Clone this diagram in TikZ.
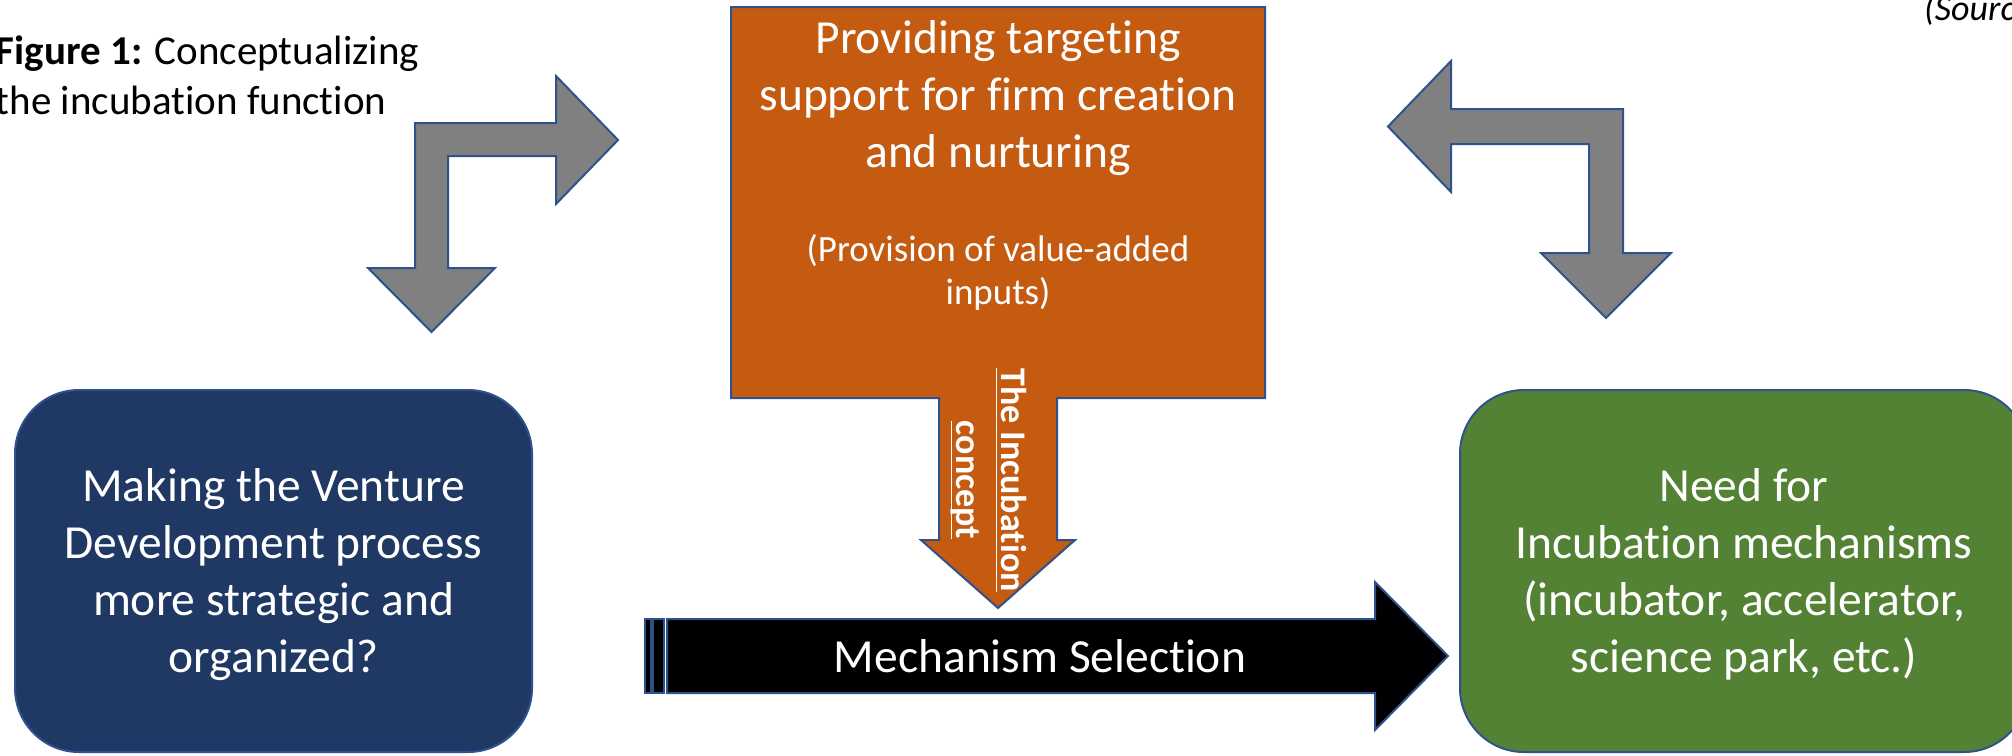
\documentclass[tikz,border=0pt]{standalone}
\usepackage{amsmath}
\usepackage{fontspec}
\setmainfont{Carlito}[Ligatures={TeX,NoCommon}]
\usepackage{tikz}
\tikzset{every picture/.style={line width=1pt}}
\tikzset{
  shapeedge/.style={draw={rgb, 255:red, 47; green, 82; blue, 143}},
  grayarrow/.style={shapeedge, fill={rgb, 255:red, 128; green, 128; blue, 128}},
  roundbox/.style={shapeedge, rounded corners=32pt, inner sep=0pt, minimum height=181pt},
  boxtext/.style={text=white, align=center, inner sep=0pt, font=\fontsize{23.75}{28.5}\selectfont},
  smalltext/.style={text=white, align=center, inner sep=0pt, font=\fontsize{18.5}{21.5}\selectfont},
  concepttext/.style={text=white, align=center, inner sep=0pt, font=\fontsize{18}{22.5}\selectfont\bfseries},
  captiontext/.style={align=left, inner sep=0pt, font=\fontsize{20.5}{25}\selectfont}
}

\begin{document}
\begin{tikzpicture}[x=0.5pt,y=0.5pt,yscale=-1,xscale=1]
      \fill[white] (0,0) rectangle (2012,755);
      \useasboundingbox (0,0) rectangle (2012,755);
      % rounded boxes left and right
      \node [roundbox, fill={rgb, 255:red, 32; green, 56; blue, 100}, minimum width=258.5pt] (venture) at (273.5,571) {};
      \node [roundbox, fill={rgb, 255:red, 84; green, 130; blue, 53}, minimum width=284pt] (need) at (1744,571) {};
      % orange box with its down arrow
      \draw [shapeedge, fill={rgb, 255:red, 197; green, 90; blue, 17}]
            (731,7) -- (1265,7) -- (1265,398) -- (1057,398) -- (1057,540) -- (1075,540) -- (998,608)
            -- (921,540) -- (939,540) -- (939,398) -- (731,398) -- cycle;
      % bent arrows
      \draw [grayarrow] (415,123) -- (556,123) -- (556,76) -- (618,140) -- (556,204) -- (556,156) -- (448,156)
            -- (448,268) -- (495,268) -- (431.5,332) -- (368,268) -- (415,268) -- cycle;
      \draw [grayarrow] (1623,109) -- (1451,109) -- (1451,61) -- (1388,126.5) -- (1451,192) -- (1451,144) -- (1589,144)
            -- (1589,253) -- (1541,253) -- (1606,318) -- (1671,253) -- (1623,253) -- cycle;
      % striped arrow
      \draw [shapeedge, fill=black] (645,619) rectangle (651,693);
      \draw [shapeedge, fill=black] (653,619) rectangle (664,693);
      \draw [shapeedge, fill=black] (667,619) -- (1375,619) -- (1375,582) -- (1448,656) -- (1375,730) -- (1375,693) -- (667,693) -- cycle;
      % texts
      \node [boxtext] (venturetext) at (273.5,574.5) {Making the Venture\\Development process\\more strategic and\\organized?};
      \node [boxtext] (needtext) at (1744,574.5) {Need for\\Incubation mechanisms\\(incubator, accelerator,\\science park, etc.)};
      \node [boxtext] (support) at (998,98.5) {Providing targeting\\support for firm creation\\and nurturing};
      \node [smalltext] (inputs) at (998,272) {(Provision of value-added\\inputs)};
      \node [concepttext, rotate=-90] (concept) at (988,480) {\underline{The Incubation}\\\underline{\smash[b]{concept}}};
      \node [boxtext, anchor=base] (selection) at (1040,672) {Mechanism Selection};
      \node [captiontext, anchor=west] (caption) at (-5,75) {\textbf{Figure 1:} Conceptualizing\\the incubation function};
      \node [inner sep=0pt, anchor=base west, font=\fontsize{18}{21.6}\selectfont\itshape] (source) at (1923,20) {(Sourc};
\end{tikzpicture}
\end{document}
